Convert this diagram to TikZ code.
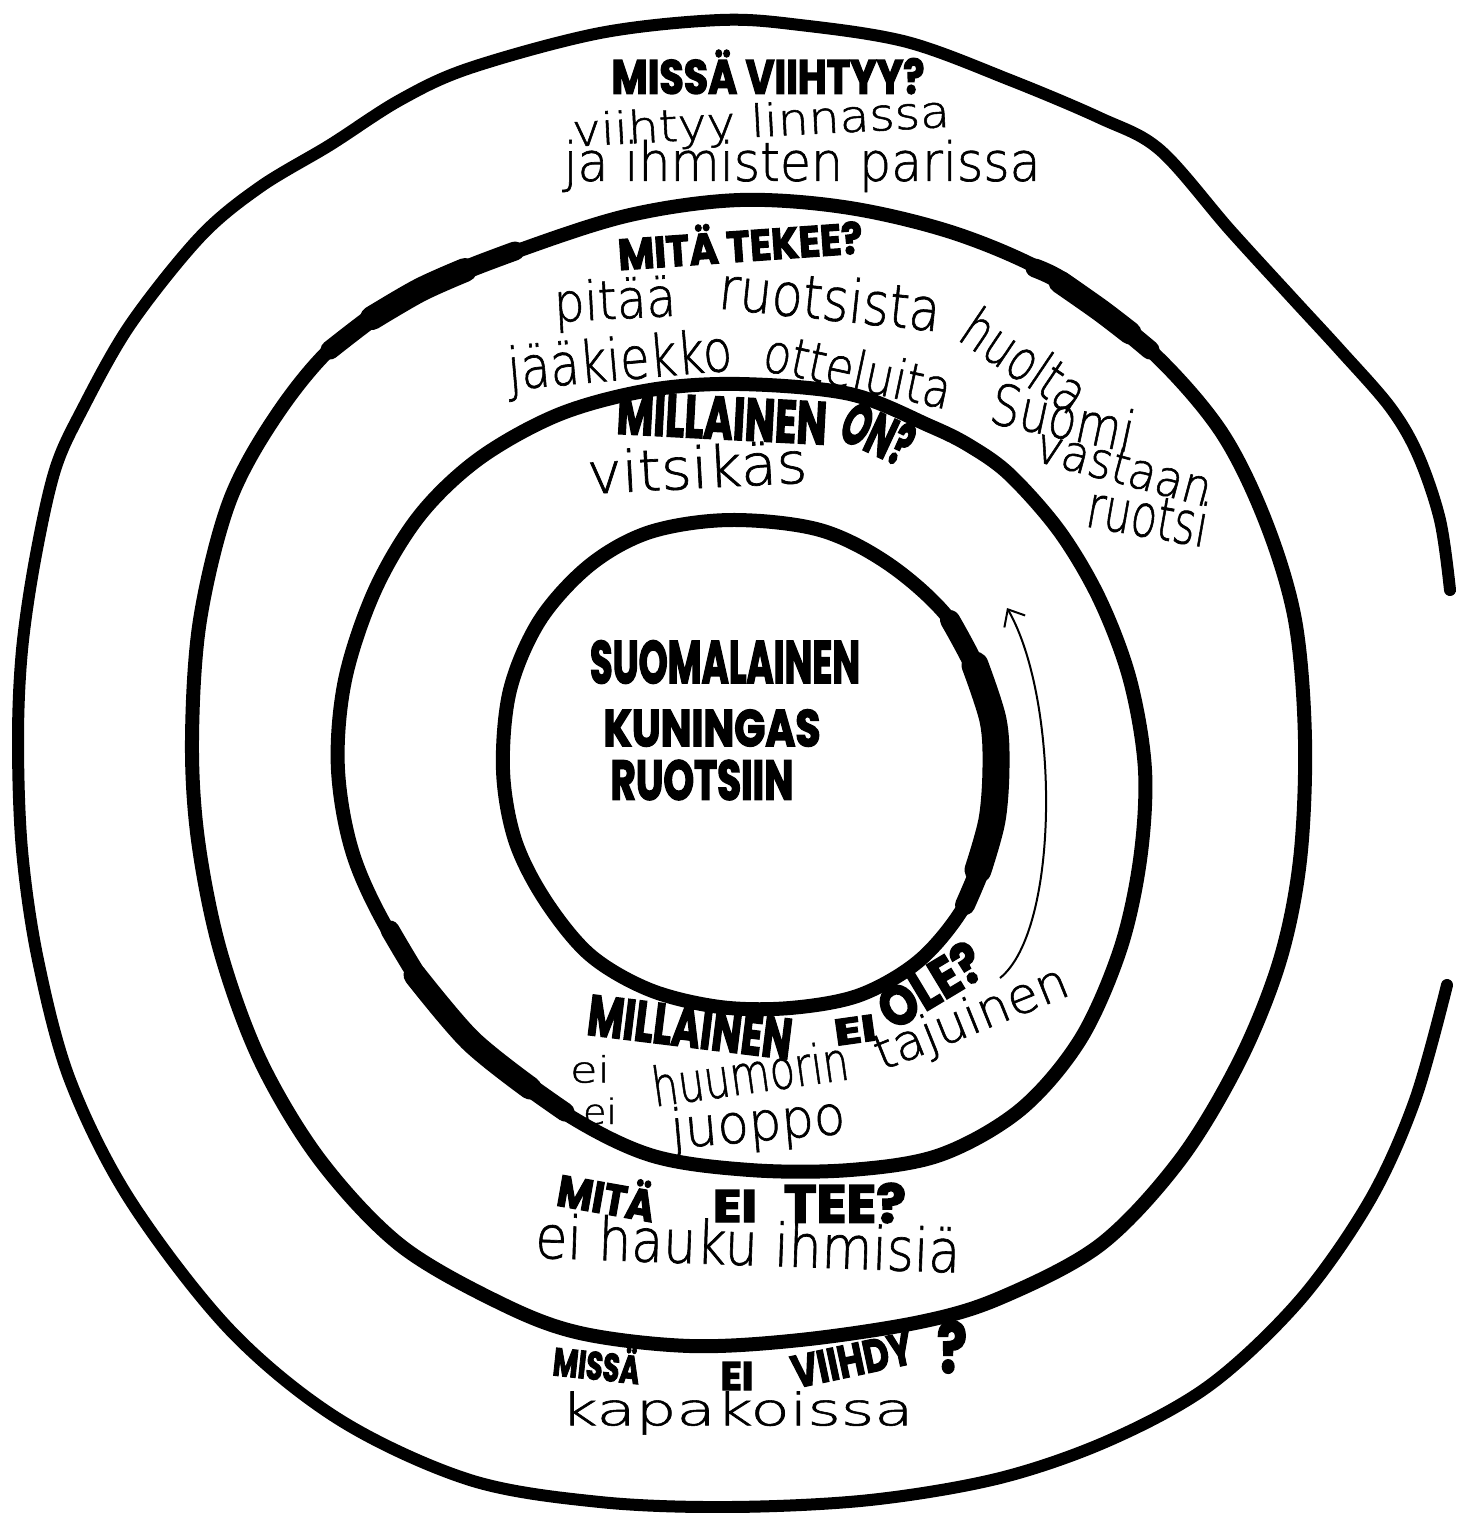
\documentclass[tikz,border=0pt]{standalone}
\usepackage{fontspec}
\newfontfamily\headfont{Poppins}[BoldFeatures={FakeBold=3}]
\newfontfamily\handfont{DejaVu Sans ExtraLight}[FakeBold=1.2]
\usetikzlibrary{arrows.meta}
\newcommand\hd[3]{\resizebox*{#1pt}{#2pt}{\headfont\bfseries #3}}
\newcommand\hw[3]{\resizebox*{#1pt}{#2pt}{\handfont #3}}
\tikzset{
  ring/.style={line width=#1, line cap=round, line join=round},
  lbl/.style={inner sep=0pt, outer sep=0pt},
  arrowline/.style={line width=2pt, -{Straight Barb[length=14pt,width=24pt,line width=2pt]}}
}
\begin{document}
\begin{tikzpicture}[x=1pt,y=-1pt]
\useasboundingbox (0,0) rectangle (1461,1513);
\fill[white] (0,0) rectangle (1461,1513);

% outer ring (open on the right)
\draw[ring=12pt] plot[smooth, tension=0.55] coordinates {
 (1450,590) (1440,520) (1418,455) (1390,407) (1340,350) (1294,300) (1230,230)
 (1160,150) (1100,118) (1010,80) (907,42) (800,25) (720,20) (600,33) (470,68)
 (400,100) (330,145) (260,187) (200,237) (130,325) (82,410) (55,470) (35,560)
 (22,650) (18,740) (22,850) (38,960) (70,1080) (130,1200) (230,1330) (340,1420)
 (470,1480) (600,1502) (730,1507) (870,1500) (1000,1478) (1110,1440) (1210,1385)
 (1300,1300) (1370,1200) (1415,1100) (1447,985)};

% second ring
\draw[ring=14pt] plot[smooth cycle, tension=0.55] coordinates {
 (740,200) (850,208) (960,235) (1060,280) (1150,350) (1220,430) (1265,520)
 (1295,620) (1305,740) (1300,860) (1280,960) (1240,1060) (1180,1160) (1100,1245)
 (1000,1298) (920,1322) (800,1340) (690,1346) (580,1333) (500,1303) (400,1245) (320,1160)
 (260,1060) (220,950) (198,840) (192,740) (200,620) (230,500) (280,410) (340,340)
 (420,290) (520,250) (630,215)};
\draw[ring=19pt] plot[smooth, tension=0.55] coordinates {(330,350) (380,312) (420,290) (470,268) (515,251)};
\draw[ring=24pt] plot[smooth, tension=0.55] coordinates {(372,318) (420,290) (465,270)};
\draw[ring=19pt] plot[smooth, tension=0.55] coordinates {(1035,268) (1060,280) (1105,313) (1150,350)};
\draw[ring=23pt] plot[smooth, tension=0.55] coordinates {(1060,282) (1100,310) (1130,333)};

% third ring
\draw[ring=14pt] plot[smooth cycle, tension=0.55] coordinates {
 (740,384) (850,394) (930,426) (970,446) (1010,475) (1060,532) (1100,600)
 (1130,680) (1145,770) (1140,860) (1120,950) (1080,1040) (1020,1110) (940,1155)
 (850,1170) (750,1170) (650,1155) (560,1110) (470,1040) (400,950) (355,860)
 (338,770) (345,680) (375,590) (420,515) (480,458) (560,414) (650,390)};
\draw[ring=19pt] plot[smooth, tension=0.55] coordinates {(390,930) (430,995) (470,1040) (520,1080) (565,1112)};
\draw[ring=23pt] plot[smooth, tension=0.55] coordinates {(415,975) (470,1040) (530,1088)};

% inner ring
\draw[ring=14pt] plot[smooth cycle, tension=0.55] coordinates {
 (730,520) (820,530) (890,565) (950,620) (985,690) (998,767) (990,840)
 (965,905) (920,960) (860,995) (790,1008) (720,1007) (650,990) (590,955)
 (545,900) (515,840) (503,770) (510,690) (540,620) (590,565) (650,532)};
\draw[ring=20pt] plot[smooth, tension=0.55] coordinates {(950,620) (985,690) (998,767) (990,840) (965,905)};
\draw[ring=27pt] plot[smooth, tension=0.55] coordinates {(975,665) (993,720) (996,767) (992,820) (978,870)};

% curved arrow
\coordinate (arrS) at (1000,978);
\coordinate (arrE) at (1007,608);
\draw[arrowline] (arrS) .. controls (1060,930) and (1060,700) .. (arrE);

% top band
\node[lbl] (q1) at (768,72) {\hd{313}{44}{MISSÄ VIIHTYY?}};
\node[lbl,rotate=3] (a1a) at (761,124) {\hw{378}{42}{viihtyy linnassa}};
\node[lbl] (a1b) at (802,166) {\hw{477}{52}{ja ihmisten parissa}};

% second band
\node[lbl,rotate=4] (q2) at (740,242) {\hd{245}{40}{MITÄ TEKEE?}};
\node[lbl,rotate=3] (a2a) at (615,304) {\hw{122}{52}{pitää}};
\node[lbl,rotate=-6] (a2b) at (830,298) {\hw{222}{46}{ruotsista}};
\node[lbl,rotate=-34] (a2c) at (1025,360) {\hw{138}{44}{huolta}};
\node[lbl,rotate=5] (a2d) at (620,364) {\hw{225}{56}{jääkiekko}};
\node[lbl,rotate=-12] (a2e) at (858,370) {\hw{190}{42}{otteluita}};
\node[lbl,rotate=-12] (a2f) at (1063,417) {\hw{145}{44}{Suomi}};
\node[lbl,rotate=-15] (a2g) at (1124,467) {\hw{180}{36}{vastaan}};
\node[lbl,rotate=-10] (a2h) at (1148,515) {\hw{122}{46}{ruotsi}};

% third band
\node[lbl,rotate=-3] (q3a) at (722,418) {\hd{210}{42}{MILLAINEN}};
\node[lbl,rotate=-25] (q3b) at (878,433) {\hd{72}{44}{ON?}};
\node[lbl,rotate=3] (a3) at (697,467) {\hw{220}{44}{vitsikäs}};

% centre
\node[lbl] (c1) at (725,662) {\hd{270}{43}{SUOMALAINEN}};
\node[lbl] (c2) at (712,728) {\hd{217}{37}{KUNINGAS}};
\node[lbl] (c3) at (702,780) {\hd{183}{40}{RUOTSIIN}};

% lower third band
\node[lbl,rotate=-7] (q4a) at (690,1027) {\hd{205}{40}{MILLAINEN}};
\node[lbl,rotate=8] (q4b) at (855,1030) {\hd{42}{26}{EI}};
\node[lbl,rotate=31] (q4c) at (930,985) {\hd{112}{42}{OLE?}};
\node[lbl] (a4a) at (590,1069) {\hw{40}{28}{ei}};
\node[lbl,rotate=8] (a4b) at (750,1073) {\hw{198}{42}{huumorin}};
\node[lbl,rotate=22] (a4c) at (972,1020) {\hw{205}{48}{tajuinen}};
\node[lbl] (a4d) at (600,1111) {\hw{34}{27}{ei}};
\node[lbl,rotate=5] (a4e) at (758,1126) {\hw{175}{52}{juoppo}};

% lower second band
\node[lbl,rotate=-10] (q5a) at (607,1194) {\hd{98}{40}{MITÄ}};
\node[lbl] (q5b) at (735,1206) {\hd{44}{32}{EI}};
\node[lbl] (q5c) at (845,1203) {\hd{122}{40}{TEE?}};
\node[lbl,rotate=-2] (a5) at (748,1243) {\hw{425}{46}{ei hauku ihmisiä}};

% lower outer band
\node[lbl,rotate=-6] (q6a) at (597,1362) {\hd{87}{36}{MISSÄ}};
\node[lbl] (q6b) at (737,1376) {\hd{33}{28}{EI}};
\node[lbl,rotate=12] (q6c) at (852,1360) {\hd{122}{32}{VIIHDY}};
\node[lbl] (q6d) at (952,1347) {\hd{30}{52}{?}};
\node[lbl] (a6) at (737,1413) {\hw{353}{43}{kapakoissa}};
\end{tikzpicture}
\end{document}
